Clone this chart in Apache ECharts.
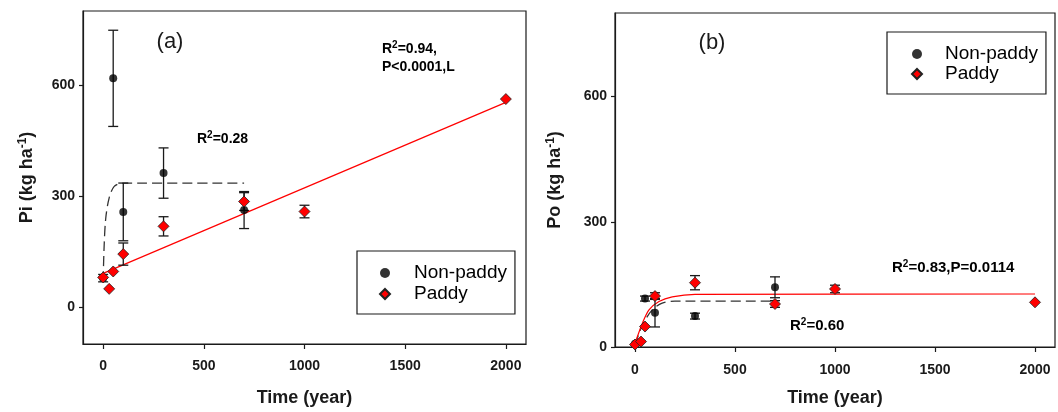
<!DOCTYPE html>
<html>
<head>
<meta charset="utf-8">
<script src="https://cdn.jsdelivr.net/npm/echarts@6/dist/echarts.min.js"></script>
<style>
    html, body { margin: 0; padding: 0; background: #fff; }
    #chart { width: 1058px; height: 412px; }
</style>
</head>
<body>
<div id="chart"></div>
<script>
// Panel (a): inorganic P (Pi)
const nonPaddyTimeA = [0, 50, 100, 300, 700];
const nonPaddyPiA = [78, 618, 257, 362, 262];
const nonPaddyErrA = [10, 130, 78, 68, 50];
const paddyTimeA = [0, 30, 50, 100, 300, 700, 1000, 2000];
const paddyPiA = [80, 49, 96, 143, 218, 285, 258, 562];
const paddyErrA = [0, 0, 0, 30, 26, 24, 17, 0];
const paddyFitTimeA = [0, 2000];
const paddyFitPiA = [91, 553];
const nonPaddyFitTimeA = [0, 5, 13, 30, 55, 96, 700];
const nonPaddyFitPiA = [70, 165, 240, 295, 326, 335, 335];

// Panel (b): organic P (Po)
const nonPaddyTimeB = [0, 50, 100, 300, 700];
const nonPaddyPoB = [8, 116, 82, 74, 143];
const nonPaddyErrB = [0, 6, 34, 7, 25];
const paddyTimeB = [0, 30, 50, 100, 300, 700, 1000, 2000];
const paddyPoB = [6, 13, 49, 122, 154, 103, 139, 107];
const paddyErrB = [0, 0, 0, 8, 17, 8, 9, 0];
const paddyFitTimeB = [0, 10, 37, 70, 120, 186, 300, 2000];
const paddyFitPoB = [5, 22, 57, 89, 109, 120, 126, 127];
const nonPaddyFitTimeB = [0, 37, 86, 136, 200, 700];
const nonPaddyFitPoB = [5, 52, 89, 105, 110, 110];

const timeTicks = [0, 500, 1000, 1500, 2000];
const valueTicks = [0, 300, 600];

const FONT = 'Arial, "Liberation Sans", sans-serif';
const INK = '#1a1a1a';
const RED = '#ff0000';

function pairs(xs, ys) {
    return xs.map(function (x, i) { return [x, ys[i]]; });
}

function errorRows(xs, ys, errs) {
    return xs.map(function (x, i) { return [x, ys[i] - errs[i], ys[i] + errs[i]]; })
        .filter(function (row, i) { return errs[i] > 0; });
}

function plainNumber(value) {
    return String(value);
}

/**
 * Draws a vertical error bar with caps for one row [x, low, high].
 */
function renderErrorBar(params, api) {
    const x = api.value(0);
    const low = api.coord([x, api.value(1)]);
    const high = api.coord([x, api.value(2)]);
    const hw = 5;
    const style = { stroke: INK, lineWidth: 1.3 };
    return {
        type: 'group',
        children: [
            { type: 'line', shape: { x1: low[0], y1: low[1], x2: high[0], y2: high[1] }, style: style },
            { type: 'line', shape: { x1: high[0] - hw, y1: high[1], x2: high[0] + hw, y2: high[1] }, style: style },
            { type: 'line', shape: { x1: low[0] - hw, y1: low[1], x2: low[0] + hw, y2: low[1] }, style: style }
        ]
    };
}

function xAxisFor(gridIndex, nameGap, labelMargin) {
    return {
        type: 'value',
        gridIndex: gridIndex,
        min: -100,
        max: 2100,
        name: 'Time (year)',
        nameLocation: 'middle',
        nameGap: nameGap,
        nameTextStyle: { fontFamily: FONT, fontWeight: 'bold', fontSize: 18, color: INK },
        axisLine: { onZero: false, lineStyle: { color: INK, width: 1.2 } },
        axisTick: { customValues: timeTicks, length: 5, lineStyle: { color: INK, width: 1.2 } },
        axisLabel: {
            customValues: timeTicks, margin: labelMargin, formatter: plainNumber,
            fontFamily: FONT, fontWeight: 'bold', fontSize: 14, color: INK
        },
        splitLine: { show: false }
    };
}

function yAxisFor(gridIndex, min, label, nameGap) {
    return {
        type: 'value',
        gridIndex: gridIndex,
        min: min,
        max: 800,
        name: '{t|' + label + ' (kg ha}{s|-1}{t|)}',
        nameLocation: 'middle',
        nameGap: nameGap,
        nameTextStyle: {
            rich: {
                t: { fontFamily: FONT, fontWeight: 'bold', fontSize: 18, color: INK, verticalAlign: 'bottom' },
                s: { fontFamily: FONT, fontWeight: 'bold', fontSize: 12, color: INK, verticalAlign: 'bottom', padding: [0, 0, 7, 0] }
            }
        },
        axisLine: { onZero: false, lineStyle: { color: INK, width: 1.2 } },
        axisTick: { customValues: valueTicks, length: 4, lineStyle: { color: INK, width: 1.2 } },
        axisLabel: {
            customValues: valueTicks, margin: 8, formatter: plainNumber,
            fontFamily: FONT, fontWeight: 'bold', fontSize: 14, color: INK
        },
        splitLine: { show: false }
    };
}

function legendFor(left, top, padding, itemGap, textShift) {
    return {
        orient: 'vertical',
        left: left,
        top: top,
        padding: padding,
        itemGap: itemGap,
        itemWidth: 10,
        itemHeight: 10,
        borderColor: INK,
        borderWidth: 1.2,
        borderRadius: 0,
        textStyle: { fontFamily: FONT, fontSize: 19, color: '#000', lineHeight: 20, padding: [0, 0, 0, textShift] },
        data: [
            { name: 'Non-paddy', icon: 'circle' },
            { name: 'Paddy', icon: 'diamond' }
        ]
    };
}

function panelSeries(idx, npX, npY, npE, pX, pY, pE, pfX, pfY, npfX, npfY, smoothPaddy) {
    return [
        {
            type: 'line', xAxisIndex: idx, yAxisIndex: idx, data: pairs(npfX, npfY),
            smooth: 0.3, symbol: 'none', silent: true, z: 2,
            lineStyle: { color: '#333', width: 1.3, type: [10, 5] }
        },
        {
            type: 'line', xAxisIndex: idx, yAxisIndex: idx, data: pairs(pfX, pfY),
            smooth: smoothPaddy ? 0.3 : false, symbol: 'none', silent: true, z: 2,
            lineStyle: { color: RED, width: 1.2 }
        },
        {
            type: 'custom', xAxisIndex: idx, yAxisIndex: idx, renderItem: renderErrorBar,
            data: errorRows(npX, npY, npE), z: 3
        },
        {
            type: 'custom', xAxisIndex: idx, yAxisIndex: idx, renderItem: renderErrorBar,
            data: errorRows(pX, pY, pE), z: 3
        },
        {
            name: 'Non-paddy', type: 'scatter', xAxisIndex: idx, yAxisIndex: idx,
            data: pairs(npX, npY), symbol: 'circle', symbolSize: 8, z: 4,
            itemStyle: { color: '#000' }
        },
        {
            name: 'Paddy', type: 'scatter', xAxisIndex: idx, yAxisIndex: idx,
            data: pairs(pX, pY), symbol: 'diamond', symbolSize: 11, z: 5,
            itemStyle: { color: RED, borderColor: '#222', borderWidth: 0.8, opacity: 1 }
        }
    ];
}

const noteRich = {
    b: { fontFamily: FONT, fontWeight: 'bold', fontSize: 14, color: INK, verticalAlign: 'bottom' },
    s: { fontFamily: FONT, fontWeight: 'bold', fontSize: 10, color: INK, verticalAlign: 'bottom', padding: [0, 0, 6, 0] },
    B: { fontFamily: FONT, fontWeight: 'bold', fontSize: 15, color: INK, verticalAlign: 'bottom' }
};

function note(x, y, text) {
    return { type: 'text', x: x, y: y, style: { text: text, rich: noteRich, verticalAlign: 'middle' } };
}

function panelTag(x, y, text) {
    return {
        type: 'text', x: x, y: y,
        style: { text: text, fontFamily: FONT, fontSize: 22, fill: INK, align: 'center', verticalAlign: 'middle' }
    };
}

const chart = echarts.init(document.getElementById('chart'));
chart.setOption({
    animation: false,
    grid: [
        { left: 83, top: 11, width: 443, height: 335, show: true, borderColor: INK, borderWidth: 1.2 },
        { left: 615, top: 13, width: 440, height: 339, show: true, borderColor: INK, borderWidth: 1.2 }
    ],
    xAxis: [xAxisFor(0, 45, 15), xAxisFor(1, 42, 16)],
    yAxis: [yAxisFor(0, -100, 'Pi', 47), yAxisFor(1, 0, 'Po', 51)],
    legend: [
        legendFor(357, 251, [12, 8, 10, 22], 1, 19),
        legendFor(887, 32, [12, 8, 10, 24], 0, 18)
    ],
    series: panelSeries(0, nonPaddyTimeA, nonPaddyPiA, nonPaddyErrA, paddyTimeA, paddyPiA, paddyErrA,
        paddyFitTimeA, paddyFitPiA, nonPaddyFitTimeA, nonPaddyFitPiA, false)
        .concat(panelSeries(1, nonPaddyTimeB, nonPaddyPoB, nonPaddyErrB, paddyTimeB, paddyPoB, paddyErrB,
            paddyFitTimeB, paddyFitPoB, nonPaddyFitTimeB, nonPaddyFitPoB, true)),
    graphic: [
        panelTag(170, 42, '(a)'),
        panelTag(712, 43, '(b)'),
        note(197, 138, '{b|R}{s|2}{b|=0.28}'),
        note(382, 48, '{b|R}{s|2}{b|=0.94,}'),
        note(382, 67, '{b|P<0.0001,L}'),
        note(892, 267, '{B|R}{s|2}{B|=0.83,P=0.0114}'),
        note(790, 325, '{B|R}{s|2}{B|=0.60}')
    ]
});
</script>
</body>
</html>
